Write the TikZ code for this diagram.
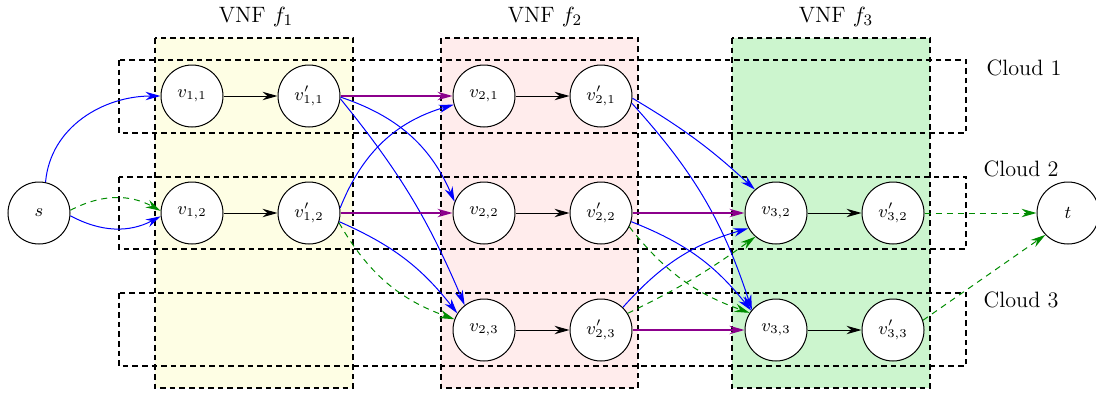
\documentclass[tikz,border=0pt]{standalone}
\usetikzlibrary{arrows.meta}
\definecolor{yfill}{RGB}{254,254,228}
\definecolor{pfill}{RGB}{255,236,236}
\definecolor{gfill}{RGB}{204,245,206}
\definecolor{pur}{RGB}{140,0,140}
\definecolor{grn}{RGB}{0,140,0}
\begin{document}
\begin{tikzpicture}[x=0.5pt,y=-0.5pt,
  vert/.style={circle,draw,line width=0.5pt,fill=white,minimum size=31pt,inner sep=0pt,font=\fontsize{9.1}{11}\selectfont},
  lbl/.style={font=\fontsize{11.1}{13}\selectfont,inner sep=0pt},
  boxline/.style={line width=0.7pt,dash pattern=on 2.8pt off 2pt},
  arr/.style={-{Stealth[length=7.5pt,width=4.2pt]},line width=0.5pt},
  bl/.style={arr,blue},
  pu/.style={arr,pur,line width=0.8pt},
  gd/.style={arr,grn,dash pattern=on 3pt off 2.5pt},
]
\useasboundingbox (0,0) rectangle (1096,396);
% VNF fills
\fill[yfill] (155,38) rectangle (353,388);
\fill[pfill] (441,38) rectangle (638,388);
\fill[gfill] (732,38) rectangle (930,388);
% cloud boxes
\draw[boxline] (119,60) rectangle (966,133);
\draw[boxline] (119,177) rectangle (966,249);
\draw[boxline] (119,293) rectangle (966,366);
% VNF borders
\draw[boxline] (155,38) rectangle (353,388);
\draw[boxline] (441,38) rectangle (638,388);
\draw[boxline] (732,38) rectangle (930,388);
% labels
\node[lbl] (lf1) at (256,17) {VNF $f_1$};
\node[lbl] (lf2) at (545,17) {VNF $f_2$};
\node[lbl] (lf3) at (836,17) {VNF $f_3$};
\node[lbl] (c1) at (1024,68) {Cloud 1};
\node[lbl] (c2) at (1021,169) {Cloud 2};
\node[lbl] (c3) at (1021,300) {Cloud 3};
% vertices
\node[vert] (s) at (39,213) {$s$};
\node[vert] (v11) at (192,96) {$v_{1,1}$};
\node[vert] (w11) at (309,96) {$v'_{1,1}$};
\node[vert] (v12) at (192,213) {$v_{1,2}$};
\node[vert] (w12) at (309,213) {$v'_{1,2}$};
\node[vert] (v21) at (484,96) {$v_{2,1}$};
\node[vert] (w21) at (601,96) {$v'_{2,1}$};
\node[vert] (v22) at (484,213) {$v_{2,2}$};
\node[vert] (w22) at (601,213) {$v'_{2,2}$};
\node[vert] (v23) at (484,330) {$v_{2,3}$};
\node[vert] (w23) at (601,330) {$v'_{2,3}$};
\node[vert] (v32) at (776,213) {$v_{3,2}$};
\node[vert] (w32) at (893,213) {$v'_{3,2}$};
\node[vert] (v33) at (776,330) {$v_{3,3}$};
\node[vert] (w33) at (893,330) {$v'_{3,3}$};
\node[vert] (t) at (1068,213) {$t$};
% internal arrows
\draw[arr] (v11) -- (w11);
\draw[arr] (v12) -- (w12);
\draw[arr] (v21) -- (w21);
\draw[arr] (v22) -- (w22);
\draw[arr] (v23) -- (w23);
\draw[arr] (v32) -- (w32);
\draw[arr] (v33) -- (w33);
% source
\draw[bl] (s.78) to[out=85,in=180] (v11.west);
\draw[bl] (s.-5) to[bend right=28] (v12.186);
\draw[gd] (s.5) to[bend left=28] (v12.176);
% stage 1 -> 2
\draw[pu] (w11.east) -- (v21.west);
\draw[bl] (w11.-2) to[bend left=24] (v22.159);
\draw[bl] (w11.-5) to[bend left=8] (v23.128);
\draw[bl] (w12.9) to[bend left=26] (v21.196);
\draw[pu] (w12.east) -- (v22.west);
\draw[bl] (w12.-16) to[bend left=14] (v23.148);
\draw[gd] (w12.-18) to[bend right=20] (v23.160);
% stage 2 -> 3
\draw[bl] (w21.-4) to[bend left=6] (v32.132);
\draw[bl] (w21.-13) to[bend left=12] (v33.140);
\draw[pu] (w22.east) -- (v32.west);
\draw[bl] (w22.-16) to[bend left=15] (v33.142);
\draw[gd] (w22.-26) to[bend right=16] (v33.147);
\draw[bl] (w23.46) to[bend left=16] (v32.209);
\draw[gd] (w23.32) to[bend right=5] (v32.229);
\draw[pu] (w23.east) -- (v33.west);
% to sink
\draw[gd] (w32.east) -- (t.west);
\draw[gd] (w33.18) -- (t.224);
\end{tikzpicture}
\end{document}
